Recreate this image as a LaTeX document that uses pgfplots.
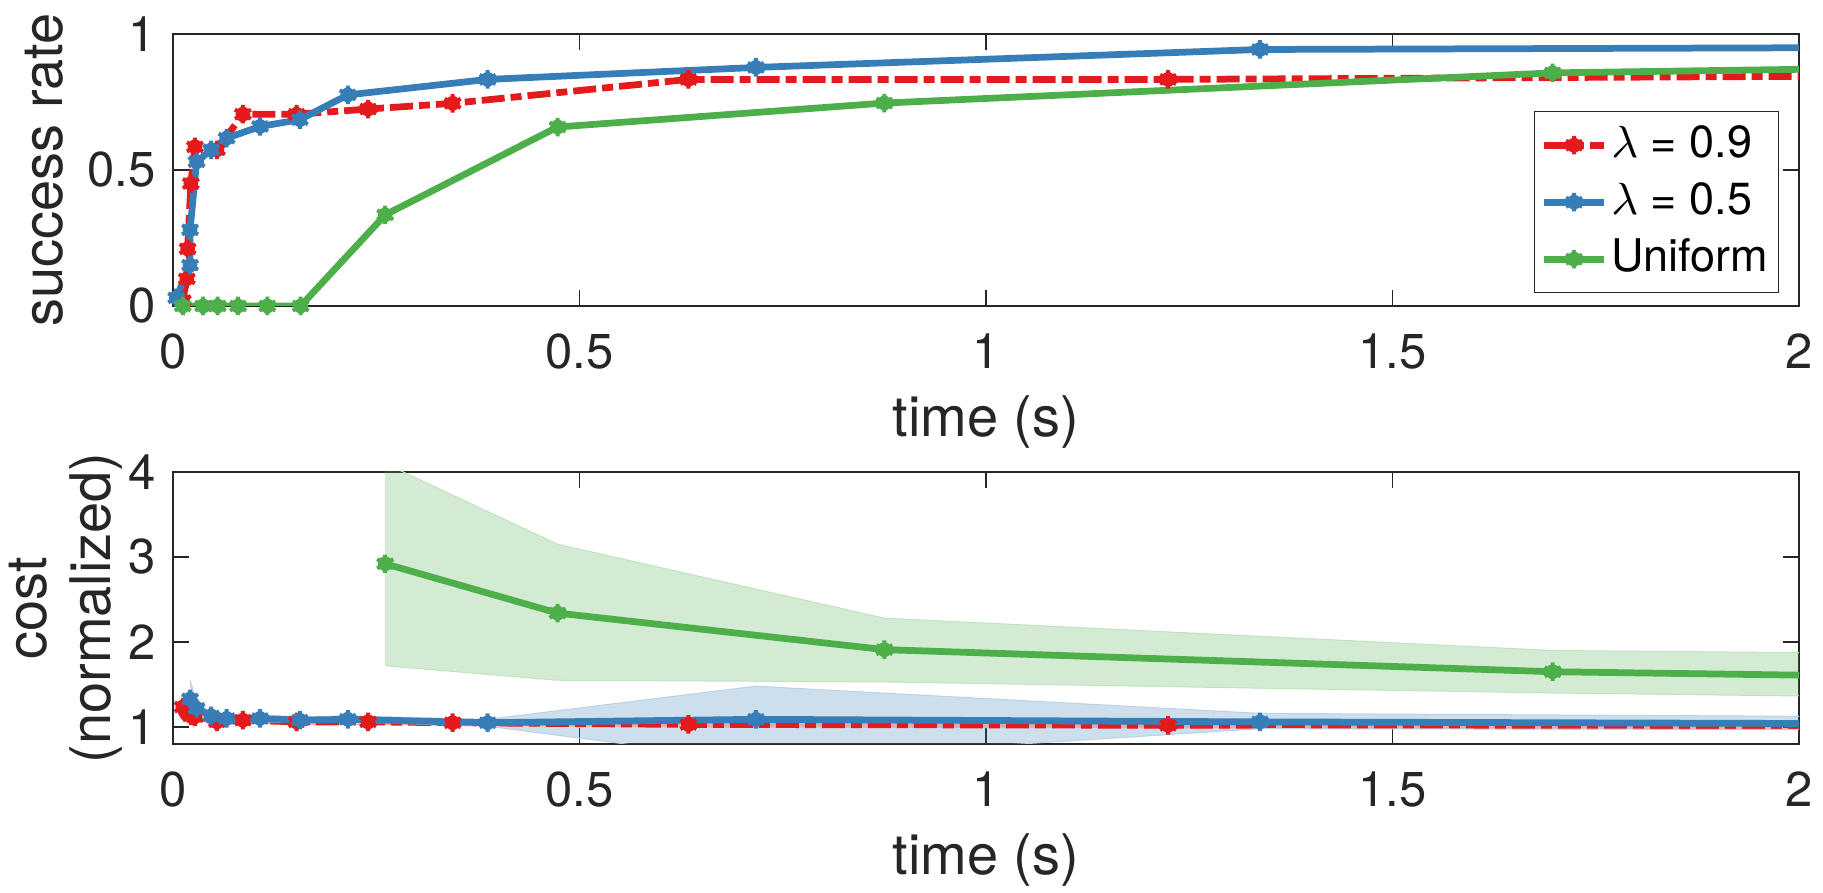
\documentclass[border=0pt]{standalone}
\usepackage{fontspec}
\setmainfont{TeX Gyre Heros}
\usepackage{pgfplots}
\pgfplotsset{compat=1.18}
\usepgfplotslibrary{fillbetween}

\definecolor{cred}{RGB}{228,26,28}
\definecolor{cblue}{RGB}{55,126,184}
\definecolor{cgreen}{RGB}{77,175,74}
\definecolor{axgray}{RGB}{38,38,38}

\pgfdeclareplotmark{blob}{%
  \pgfpathcircle{\pgfpointorigin}{0.8\pgfplotmarksize}\pgfusepathqfill
  \pgfuseplotmark{asterisk}}

\pgfplotsset{
  myaxis/.style={
    scale only axis, width=325.2pt, height=54.4pt,
    xmin=0, xmax=2,
    xtick={0,0.5,1,1.5,2},
    xticklabels={0,0.5,1,1.5,2},
    axis line style={axgray, line width=0.3pt},
    every tick/.style={axgray, line width=0.3pt},
    major tick length=3.2pt,
    tick align=inside,
    ticklabel style={font=\fontsize{9.8}{10}\selectfont, text=axgray},
    xticklabel style={yshift=-2pt},
    label style={font=\fontsize{11.2}{12.8}\selectfont, text=axgray},
    xlabel={time (s)},
    xlabel style={yshift=1.5pt},
    clip=true,
  },
  ser/.style={line width=1.35pt, mark=blob, mark size=1.85pt, mark options={solid, line width=0.8pt}},
  rdash/.style={dash pattern=on 4.6pt off 1.2pt on 2.2pt off 1.2pt},
  legend image code/.code={\draw[mark repeat=2,mark phase=2,#1] plot coordinates {(0pt,0pt) (6pt,0pt) (12pt,0pt)};},
}

\begin{document}
\begin{tikzpicture}

\begin{axis}[myaxis, at={(0pt,0pt)}, anchor=south west,
  ymin=0, ymax=1, ytick={0,0.5,1}, yticklabels={0,0.5,1},
  ylabel={success rate}, ylabel style={yshift=-2pt},
  legend cell align=left,
  legend style={at={(0.9877,0.717)}, anchor=north east, draw=axgray, line width=0.3pt,
    font=\fontsize{9}{10}\selectfont, inner xsep=1.2pt, inner ysep=1.4pt, row sep=0.8pt,
    nodes={inner sep=0.8pt, text height=7pt, text depth=2pt}},
]
\addplot[ser, cred, rdash] coordinates {
(0.012,0.02) (0.017,0.10) (0.018,0.21) (0.022,0.45) (0.027,0.585) (0.054,0.574)
(0.086,0.705) (0.152,0.705) (0.24,0.724) (0.344,0.745) (0.634,0.833) (1.224,0.833) (2.4,0.85)};
\addlegendentry{$\lambda$ = 0.9}
\addplot[ser, cblue] coordinates {
(0.004,0.03) (0.021,0.15) (0.021,0.28) (0.029,0.53) (0.047,0.574) (0.066,0.617)
(0.107,0.66) (0.156,0.685) (0.215,0.776) (0.387,0.833) (0.717,0.877) (1.337,0.943) (2.4,0.953)};
\addlegendentry{$\lambda$ = 0.5}
\addplot[ser, cgreen] coordinates {
(0.012,0) (0.037,0) (0.055,0) (0.08,0) (0.116,0) (0.157,0)
(0.261,0.335) (0.473,0.658) (0.875,0.746) (1.697,0.857) (2.3,0.883)};
\addlegendentry{Uniform}
\end{axis}

\begin{axis}[myaxis, at={(0pt,-87.6pt)}, anchor=south west,
  ymin=0.8, ymax=4, ytick={1,2,3,4}, yticklabels={1,2,3,4},
  ylabel={cost\\(normalized)}, ylabel style={align=center, yshift=-5.8pt},
]
% red band and line
\addplot[name path=ru, draw=cred!35, line width=0.2pt, forget plot] coordinates {
(0.012,1.29) (0.017,1.25) (0.019,1.21) (0.022,1.17) (0.027,1.15) (0.054,1.09) (0.086,1.11)
(0.152,1.09) (0.24,1.09) (0.344,1.08) (0.634,1.06) (1.224,1.05) (2.4,1.04)};
\addplot[name path=rl, draw=cred!35, line width=0.2pt, forget plot] coordinates {
(0.012,1.18) (0.017,1.15) (0.019,1.12) (0.022,1.09) (0.027,1.09) (0.054,1.03) (0.086,1.05)
(0.152,1.03) (0.24,1.03) (0.344,1.02) (0.634,1.00) (1.224,0.99) (2.4,0.98)};
\addplot[cred, fill opacity=0.25, draw=none, forget plot] fill between[of=ru and rl];
\addplot[ser, cred, rdash] coordinates {
(0.012,1.235) (0.017,1.20) (0.019,1.165) (0.022,1.13) (0.027,1.12) (0.054,1.06) (0.086,1.08)
(0.152,1.06) (0.24,1.06) (0.344,1.05) (0.634,1.03) (1.224,1.02) (2.4,1.01)};
% blue band and line
\addplot[name path=bu, draw=cblue!35, line width=0.2pt, forget plot] coordinates {
(0.021,1.55) (0.029,1.30) (0.047,1.17) (0.066,1.14) (0.107,1.14) (0.156,1.12) (0.215,1.13)
(0.387,1.09) (0.717,1.48) (1.337,1.16) (2.4,1.105)};
\addplot[name path=bl, draw=cblue!35, line width=0.2pt, forget plot] coordinates {
(0.021,1.10) (0.029,1.12) (0.047,1.08) (0.066,1.06) (0.107,1.06) (0.156,1.05) (0.215,1.06)
(0.387,1.01) (0.717,0.60) (1.337,0.98) (2.4,0.965)};
\addplot[cblue, fill opacity=0.25, draw=none, forget plot] fill between[of=bu and bl];
\addplot[ser, cblue] coordinates {
(0.021,1.33) (0.029,1.22) (0.047,1.13) (0.066,1.10) (0.107,1.10) (0.156,1.08) (0.215,1.09)
(0.387,1.05) (0.717,1.09) (1.337,1.06) (2.4,1.03)};
% green band and line
\addplot[name path=gu, draw=cgreen!35, line width=0.2pt, forget plot] coordinates {
(0.261,4.10) (0.473,3.15) (0.875,2.28) (1.697,1.90) (2.3,1.85)};
\addplot[name path=gl, draw=cgreen!35, line width=0.2pt, forget plot] coordinates {
(0.261,1.72) (0.473,1.55) (0.875,1.53) (1.697,1.40) (2.3,1.33)};
\addplot[cgreen, fill opacity=0.25, draw=none, forget plot] fill between[of=gu and gl];
\addplot[ser, cgreen] coordinates {
(0.261,2.92) (0.473,2.34) (0.875,1.91) (1.697,1.65) (2.3,1.57)};
\end{axis}

\pgfresetboundingbox
\useasboundingbox (-34.6pt,-117.4pt) rectangle (330pt,61.2pt);
\end{tikzpicture}
\end{document}
